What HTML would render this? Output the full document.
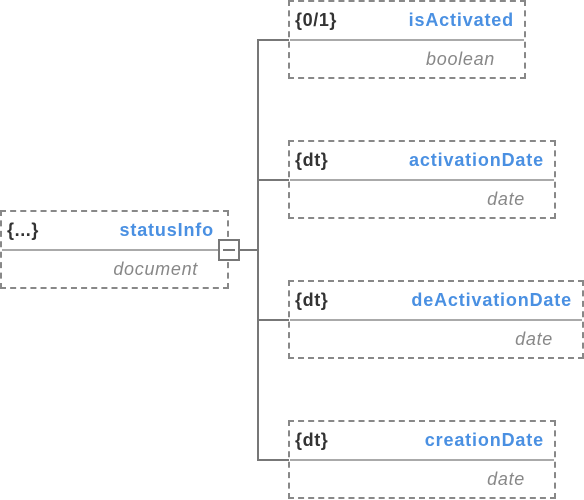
<!DOCTYPE html><html><head><style>
body{margin:0;width:584px;height:500px;background:#fff;position:relative;font-family:"Liberation Sans",Arial,sans-serif;overflow:hidden}
.b{position:absolute;border:2px dashed #888;box-sizing:border-box;height:79px}
.d{position:absolute;left:0;right:0;top:37px;border-top:2px solid #aaa}
.k{position:absolute;left:5px;top:8px;font-weight:bold;font-size:18px;color:#333;letter-spacing:0.6px}
.n{position:absolute;right:10px;top:8px;font-weight:bold;font-size:18px;color:#4a90e2;letter-spacing:0.85px}
.t{position:absolute;right:29px;top:47px;font-style:italic;font-size:18px;color:#888;letter-spacing:0.7px}
.l{position:absolute;background:#777}
</style></head><body>
<div class="l" style="left:257px;top:39px;width:2px;height:422px"></div>
<div class="l" style="left:240px;top:249px;width:18px;height:2px"></div>
<div class="l" style="left:258px;top:39px;width:31px;height:2px"></div>
<div class="l" style="left:258px;top:179px;width:31px;height:2px"></div>
<div class="l" style="left:258px;top:319px;width:31px;height:2px"></div>
<div class="l" style="left:258px;top:459px;width:31px;height:2px"></div>
<div class="b" style="left:0;top:210px;width:229px"><div class="d"></div><div class="k">{...}</div><div class="n" style="right:13px">statusInfo</div><div class="t">document</div></div>
<div style="position:absolute;left:218px;top:239px;width:22px;height:22px;border:2px solid #777;box-sizing:border-box;background:#fff"><div style="position:absolute;left:3px;right:3px;top:8px;height:2px;background:#777"></div></div>
<div class="b" style="left:288px;top:0;width:238px"><div class="d"></div><div class="k">{0/1}</div><div class="n">isActivated</div><div class="t">boolean</div></div>
<div class="b" style="left:288px;top:140px;width:268px"><div class="d"></div><div class="k">{dt}</div><div class="n">activationDate</div><div class="t">date</div></div>
<div class="b" style="left:288px;top:280px;width:296px"><div class="d"></div><div class="k">{dt}</div><div class="n">deActivationDate</div><div class="t">date</div></div>
<div class="b" style="left:288px;top:420px;width:268px"><div class="d"></div><div class="k">{dt}</div><div class="n">creationDate</div><div class="t">date</div></div>
</body></html>
